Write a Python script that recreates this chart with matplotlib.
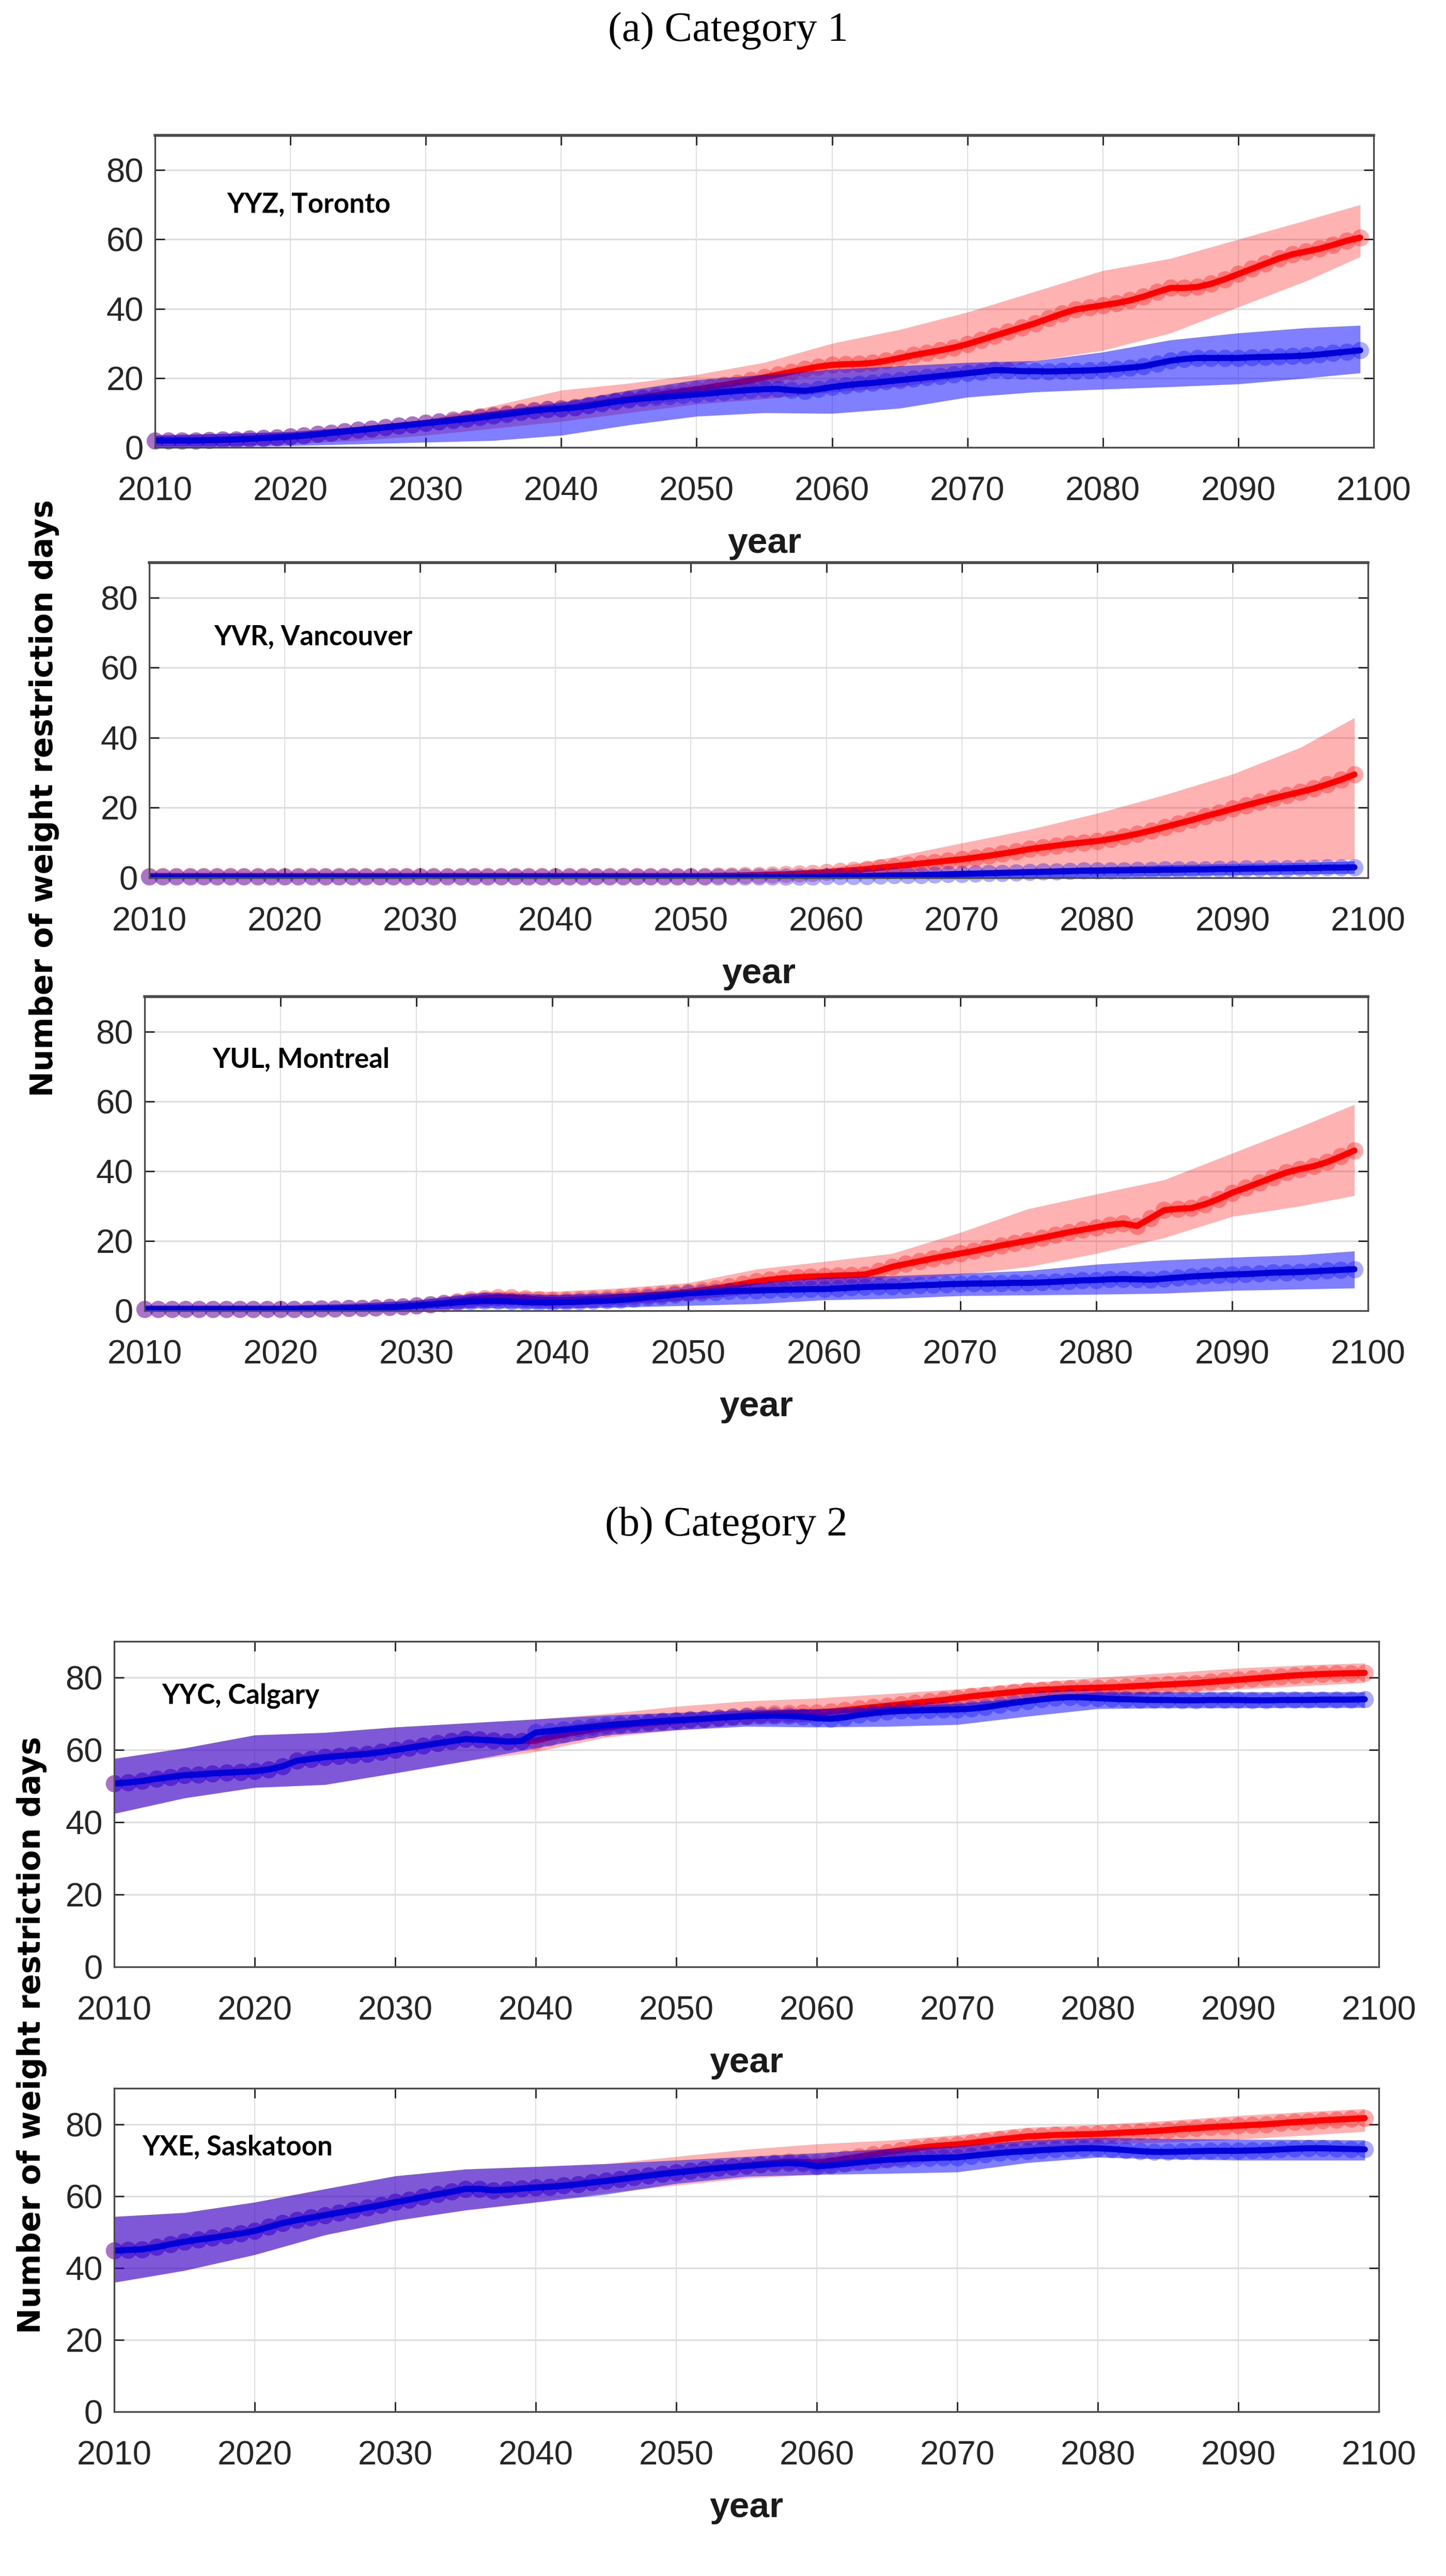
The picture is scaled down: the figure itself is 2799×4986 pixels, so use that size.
import numpy as np
import matplotlib
matplotlib.use("Agg")
import matplotlib.pyplot as plt

# ---------------- data ----------------
years = np.arange(2010, 2100)
band_years = [2010, 2015, 2020, 2025, 2030, 2035, 2040, 2045, 2050, 2055,
              2060, 2065, 2070, 2075, 2080, 2085, 2090, 2095, 2099]

# Toronto
yyz_red = [2.0, 2.0, 2.0, 2.0, 2.1, 2.2, 2.3, 2.5, 2.7, 2.9,
           3.1, 3.4, 3.8, 4.2, 4.6, 5.0, 5.4, 5.8, 6.2, 6.6,
           7.1, 7.5, 8.0, 8.4, 8.9, 9.4, 9.9, 10.3, 10.7, 11.0,
           11.2, 11.6, 12.2, 12.8, 13.4, 14.0, 14.5, 15.0, 15.6, 16.2,
           16.8, 17.4, 18.0, 18.7, 19.4, 20.2, 21.0, 21.8, 22.6, 23.3,
           23.8, 24.0, 24.1, 24.4, 25.0, 25.8, 26.6, 27.3, 28.0, 28.8,
           29.8, 31.0, 32.2, 33.4, 34.6, 35.8, 37.2, 38.6, 39.8, 40.4,
           41.0, 41.6, 42.4, 43.5, 44.8, 46.0, 46.0, 46.3, 47.2, 48.5,
           50.0, 51.5, 53.0, 54.5, 55.7, 56.5, 57.3, 58.4, 59.6, 60.5]
yyz_blue = [2.0, 2.0, 2.0, 2.0, 2.1, 2.2, 2.3, 2.5, 2.7, 2.9,
            3.1, 3.4, 3.8, 4.2, 4.6, 5.0, 5.4, 5.8, 6.2, 6.6,
            7.0, 7.4, 7.8, 8.2, 8.6, 9.1, 9.6, 10.1, 10.6, 11.0,
            11.2, 11.5, 12.0, 12.6, 13.2, 13.7, 14.1, 14.4, 14.7, 15.0,
            15.3, 15.6, 16.0, 16.3, 16.6, 16.8, 16.9, 16.5, 16.3, 16.8,
            17.4, 17.9, 18.3, 18.6, 19.0, 19.4, 19.8, 20.2, 20.6, 21.0,
            21.4, 21.8, 22.3, 22.2, 22.0, 22.0, 21.9, 22.0, 22.1, 22.2,
            22.4, 22.7, 23.0, 23.4, 24.2, 25.0, 25.5, 25.8, 25.8, 25.8,
            25.8, 26.0, 26.1, 26.2, 26.3, 26.5, 26.8, 27.2, 27.6, 28.0]
yyz_red_lo = [0.5, 0.5, 1.0, 2.0, 3.5, 5.5, 7.5, 10.0, 12.5, 14.0,
              16.0, 17.5, 20.5, 25.0, 28.0, 33.0, 40.5, 48.0, 55.0]
yyz_red_hi = [3.5, 4.0, 4.5, 6.0, 8.0, 12.0, 16.5, 18.5, 21.0, 24.5,
              30.0, 34.0, 39.0, 45.0, 51.0, 54.5, 60.0, 65.5, 70.0]
yyz_blue_lo = [0.3, 0.3, 0.5, 1.0, 1.5, 2.0, 3.5, 6.5, 9.0, 10.0,
               9.8, 11.3, 14.5, 16.0, 16.8, 17.5, 18.3, 20.0, 21.5]
yyz_blue_hi = [3.5, 4.0, 4.5, 6.0, 8.0, 10.5, 13.0, 16.5, 19.5, 21.0,
               22.5, 23.5, 24.5, 25.0, 27.5, 31.0, 33.0, 34.5, 35.2]

# Vancouver
yvr_red = [0.5, 0.5, 0.5, 0.5, 0.5, 0.5, 0.5, 0.5, 0.5, 0.5,
           0.5, 0.5, 0.5, 0.5, 0.5, 0.5, 0.5, 0.5, 0.5, 0.5,
           0.5, 0.5, 0.5, 0.5, 0.5, 0.5, 0.5, 0.5, 0.5, 0.5,
           0.5, 0.5, 0.5, 0.5, 0.5, 0.5, 0.5, 0.5, 0.5, 0.5,
           0.5, 0.5, 0.6, 0.6, 0.7, 0.8, 0.9, 1.0, 1.2, 1.4,
           1.6, 1.9, 2.2, 2.5, 2.9, 3.3, 3.7, 4.1, 4.5, 4.9,
           5.3, 5.8, 6.3, 6.9, 7.5, 8.2, 8.7, 9.2, 9.7, 10.1,
           10.5, 11.1, 11.8, 12.6, 13.5, 14.5, 15.5, 16.5, 17.6, 18.6,
           19.7, 20.7, 21.7, 22.7, 23.6, 24.5, 25.5, 26.7, 28.0, 29.5]
yvr_blue = [0.3, 0.3, 0.3, 0.3, 0.3, 0.3, 0.3, 0.3, 0.3, 0.3,
            0.3, 0.3, 0.3, 0.3, 0.3, 0.3, 0.3, 0.3, 0.3, 0.3,
            0.3, 0.3, 0.3, 0.3, 0.3, 0.3, 0.3, 0.3, 0.3, 0.3,
            0.3, 0.3, 0.3, 0.3, 0.3, 0.3, 0.3, 0.3, 0.3, 0.3,
            0.3, 0.3, 0.3, 0.3, 0.3, 0.3, 0.3, 0.3, 0.3, 0.3,
            0.4, 0.4, 0.5, 0.5, 0.6, 0.7, 0.7, 0.8, 0.9, 1.0,
            1.1, 1.2, 1.3, 1.4, 1.5, 1.6, 1.7, 1.8, 1.9, 2.0,
            2.0, 2.1, 2.1, 2.2, 2.2, 2.3, 2.3, 2.4, 2.4, 2.5,
            2.5, 2.6, 2.6, 2.7, 2.7, 2.8, 2.8, 2.9, 2.9, 3.0]
yvr_red_lo = [0.0, 0.0, 0.0, 0.0, 0.0, 0.0, 0.0, 0.0, 0.0, 0.0,
              0.2, 0.8, 1.5, 2.2, 2.8, 3.3, 3.9, 4.5, 5.2]
yvr_red_hi = [0.8, 0.8, 0.8, 0.8, 0.8, 0.8, 0.8, 0.8, 1.0, 1.5,
              2.5, 6.0, 9.9, 13.8, 18.4, 23.7, 29.6, 37.2, 45.7]
yvr_blue_lo = [0.0, 0.0, 0.0, 0.0, 0.0, 0.0, 0.0, 0.0, 0.0, 0.0,
               0.0, 0.0, 0.0, 0.0, 0.3, 0.5, 0.8, 1.0, 1.2]
yvr_blue_hi = [0.8, 0.8, 0.8, 0.8, 0.8, 0.8, 0.8, 0.8, 0.8, 0.9,
               1.0, 1.5, 2.0, 2.6, 3.1, 3.6, 4.0, 4.4, 4.8]

# Montreal
yul_red = [0.5, 0.5, 0.5, 0.5, 0.5, 0.5, 0.5, 0.5, 0.5, 0.5,
           0.5, 0.5, 0.5, 0.6, 0.6, 0.7, 0.8, 0.9, 1.0, 1.2,
           1.5, 1.8, 2.2, 2.7, 3.2, 3.6, 3.8, 3.8, 3.5, 3.2,
           3.1, 3.1, 3.2, 3.4, 3.6, 3.9, 4.1, 4.4, 4.7, 5.0,
           5.4, 5.9, 6.4, 7.0, 7.7, 8.4, 8.9, 9.3, 9.6, 9.8,
           9.9, 10.1, 10.2, 10.4, 11.4, 12.6, 13.4, 14.2, 15.0, 15.7,
           16.4, 17.1, 17.9, 18.7, 19.4, 20.1, 20.9, 21.7, 22.5, 23.2,
           23.9, 24.6, 25.0, 24.3, 26.5, 28.8, 29.2, 29.4, 30.5, 32.0,
           33.8, 35.2, 36.7, 38.2, 39.6, 40.6, 41.4, 42.6, 44.2, 45.9]
yul_blue = [0.5, 0.5, 0.5, 0.5, 0.5, 0.5, 0.5, 0.5, 0.5, 0.5,
            0.5, 0.5, 0.5, 0.6, 0.6, 0.7, 0.8, 0.9, 1.0, 1.2,
            1.5, 1.8, 2.1, 2.4, 2.7, 2.8, 2.8, 2.7, 2.5, 2.4,
            2.4, 2.5, 2.6, 2.8, 2.9, 3.1, 3.4, 3.8, 4.2, 4.6,
            5.0, 5.2, 5.4, 5.6, 5.7, 5.8, 5.9, 6.0, 6.1, 6.2,
            6.2, 6.4, 6.6, 6.8, 6.9, 7.0, 7.1, 7.3, 7.4, 7.6,
            7.7, 7.8, 7.8, 7.9, 8.0, 8.0, 8.1, 8.3, 8.5, 8.7,
            8.8, 9.0, 9.1, 9.0, 8.9, 9.2, 9.5, 9.8, 10.0, 10.2,
            10.4, 10.5, 10.7, 10.9, 11.0, 11.1, 11.3, 11.5, 11.7, 11.9]
yul_red_lo = [0.0, 0.0, 0.0, 0.0, 0.5, 1.5, 1.5, 2.0, 3.0, 5.0,
              6.0, 8.0, 10.4, 12.6, 16.4, 20.9, 27.0, 30.0, 33.0]
yul_red_hi = [1.5, 1.5, 1.5, 2.0, 3.0, 5.5, 5.5, 6.5, 8.0, 11.9,
              14.1, 16.4, 22.4, 29.2, 33.4, 37.5, 45.1, 52.7, 59.1]
yul_blue_lo = [0.0, 0.0, 0.0, 0.0, 0.3, 0.8, 0.6, 1.0, 1.5, 2.0,
               3.1, 3.5, 4.3, 4.5, 4.7, 5.0, 5.8, 6.2, 6.5]
yul_blue_hi = [1.5, 1.5, 1.5, 2.0, 3.0, 5.2, 4.6, 5.0, 5.8, 8.0,
               9.6, 10.0, 10.7, 11.5, 13.3, 14.5, 15.3, 16.0, 17.1]

# Calgary
yyc_red = [50.7, 51.0, 51.4, 52.0, 52.5, 53.0, 53.2, 53.5, 53.7, 53.9,
           54.1, 54.6, 55.5, 57.0, 57.5, 58.0, 58.3, 58.6, 58.9, 59.4,
           60.0, 60.6, 61.2, 61.8, 62.4, 63.0, 62.8, 62.6, 62.3, 62.5,
           62.5, 63.5, 64.3, 65.0, 65.6, 66.2, 66.7, 67.1, 67.4, 67.7,
           68.0, 68.3, 68.6, 68.9, 69.2, 69.5, 69.8, 70.0, 70.2, 70.3,
           70.3, 70.6, 71.0, 71.4, 71.8, 72.2, 72.6, 73.0, 73.4, 73.8,
           74.3, 74.8, 75.2, 75.6, 76.0, 76.4, 76.6, 76.8, 77.0, 77.1,
           77.2, 77.3, 77.5, 77.7, 77.9, 78.1, 78.3, 78.5, 78.8, 79.1,
           79.4, 79.7, 80.0, 80.3, 80.6, 80.8, 81.0, 81.1, 81.2, 81.3]
yyc_blue = [50.7, 51.0, 51.4, 52.0, 52.5, 53.0, 53.2, 53.5, 53.7, 53.9,
            54.1, 54.6, 55.5, 57.0, 57.5, 58.0, 58.3, 58.6, 58.9, 59.4,
            60.0, 60.6, 61.2, 61.8, 62.4, 63.0, 62.8, 62.6, 62.3, 62.5,
            64.8, 65.2, 65.6, 66.0, 66.4, 66.8, 67.1, 67.4, 67.7, 68.0,
            68.2, 68.4, 68.6, 68.9, 69.1, 69.3, 69.4, 69.5, 69.4, 69.2,
            68.8, 68.6, 69.0, 69.7, 70.2, 70.6, 70.8, 70.9, 71.0, 71.1,
            71.2, 71.4, 71.8, 72.4, 73.0, 73.5, 74.0, 74.4, 74.6, 74.5,
            74.3, 74.1, 74.0, 73.9, 73.8, 73.8, 73.7, 73.7, 73.8, 73.8,
            73.8, 73.7, 73.7, 73.8, 73.8, 73.8, 73.9, 73.9, 73.9, 74.0]
yyc_red_lo = [42.4, 46.7, 49.6, 50.4, 53.6, 56.9, 59.5, 63.5, 65.5, 67.0,
              67.8, 69.5, 71.4, 73.0, 74.3, 75.5, 76.8, 77.8, 78.6]
yyc_red_hi = [57.6, 60.5, 64.1, 64.8, 66.3, 67.4, 68.5, 70.0, 72.0, 73.5,
              74.3, 75.5, 76.8, 78.5, 80.0, 81.3, 82.6, 83.5, 84.0]
yyc_blue_lo = [42.4, 46.7, 49.6, 50.4, 53.6, 56.9, 60.5, 64.1, 65.5, 66.5,
               66.3, 66.5, 67.0, 69.3, 71.4, 71.6, 71.6, 71.7, 71.7]
yyc_blue_hi = [57.6, 60.5, 64.1, 64.8, 66.3, 67.4, 68.5, 69.6, 70.3, 71.0,
               71.4, 72.0, 72.8, 74.5, 76.0, 76.0, 76.0, 76.0, 76.0]

# Saskatoon
yxe_red = [44.8, 45.0, 45.2, 45.8, 46.6, 47.3, 47.9, 48.4, 49.0, 49.6,
           50.3, 51.4, 52.5, 53.3, 54.0, 54.7, 55.4, 56.1, 56.8, 57.5,
           58.3, 59.0, 59.8, 60.5, 61.2, 62.0, 62.0, 61.6, 61.8, 62.1,
           62.4, 62.6, 62.9, 63.3, 63.8, 64.2, 64.7, 65.2, 65.7, 66.2,
           66.6, 67.0, 67.4, 67.8, 68.1, 68.5, 68.9, 69.3, 69.6, 69.5,
           69.3, 69.8, 70.4, 71.0, 71.6, 72.2, 72.8, 73.3, 73.8, 74.1,
           74.4, 74.8, 75.3, 75.8, 76.2, 76.6, 76.8, 77.0, 77.1, 77.2,
           77.3, 77.5, 77.7, 77.9, 78.1, 78.4, 78.7, 78.9, 79.2, 79.4,
           79.6, 79.8, 80.0, 80.3, 80.6, 80.8, 81.1, 81.3, 81.5, 81.7]
yxe_blue = [44.8, 45.0, 45.2, 45.8, 46.6, 47.3, 47.9, 48.4, 49.0, 49.6,
            50.3, 51.4, 52.5, 53.3, 54.0, 54.7, 55.4, 56.1, 56.8, 57.5,
            58.3, 59.0, 59.8, 60.5, 61.2, 62.0, 62.0, 61.6, 61.8, 62.1,
            62.4, 62.6, 62.9, 63.3, 63.8, 64.2, 64.7, 65.2, 65.7, 66.2,
            66.6, 67.0, 67.4, 67.8, 68.1, 68.4, 68.7, 69.0, 69.2, 69.0,
            68.3, 68.6, 69.0, 69.4, 69.8, 70.1, 70.3, 70.5, 70.6, 70.7,
            70.8, 71.2, 71.6, 72.0, 72.3, 72.5, 72.8, 73.0, 73.2, 73.3,
            73.3, 73.1, 72.8, 72.5, 72.3, 72.3, 72.4, 72.5, 72.6, 72.6,
            72.6, 72.7, 72.8, 73.0, 73.2, 73.3, 73.3, 73.2, 73.1, 73.0]
yxe_red_lo = [36.0, 39.3, 43.7, 49.2, 53.2, 56.1, 58.3, 60.9, 63.0, 65.0,
              66.0, 68.0, 70.8, 72.8, 74.4, 75.0, 75.8, 77.0, 78.0]
yxe_red_hi = [54.3, 55.4, 58.3, 62.0, 65.6, 67.5, 68.2, 69.0, 71.0, 73.0,
              74.5, 75.5, 77.0, 79.1, 79.9, 81.0, 82.4, 83.5, 84.3]
yxe_blue_lo = [36.0, 39.3, 43.7, 49.2, 53.2, 56.1, 58.3, 60.5, 63.5, 65.5,
               66.0, 66.3, 66.7, 69.3, 70.8, 70.3, 70.0, 70.0, 70.0]
yxe_blue_hi = [54.3, 55.4, 58.3, 62.0, 65.6, 67.5, 68.2, 69.0, 70.0, 71.0,
               72.0, 73.2, 74.0, 75.5, 76.3, 76.0, 75.8, 75.7, 75.6]

station_labels = ["YYZ, Toronto", "YVR, Vancouver", "YUL, Montreal",
                  "YYC, Calgary", "YXE, Saskatoon"]
titles = ["(a) Category 1", "(b) Category 2"]
ylabel_text = "Number of weight restriction days"
xlabel_text = "year"
xticks = [2010, 2020, 2030, 2040, 2050, 2060, 2070, 2080, 2090, 2100]
yticks = [0, 20, 40, 60, 80]

panels = [
    (yyz_red, yyz_blue, yyz_red_lo, yyz_red_hi, yyz_blue_lo, yyz_blue_hi),
    (yvr_red, yvr_blue, yvr_red_lo, yvr_red_hi, yvr_blue_lo, yvr_blue_hi),
    (yul_red, yul_blue, yul_red_lo, yul_red_hi, yul_blue_lo, yul_blue_hi),
    (yyc_red, yyc_blue, yyc_red_lo, yyc_red_hi, yyc_blue_lo, yyc_blue_hi),
    (yxe_red, yxe_blue, yxe_red_lo, yxe_red_hi, yxe_blue_lo, yxe_blue_hi),
]

# ---------------- layout (pixels) ----------------
W, H = 2799, 4986
DPI = 100
boxes = [  # left, top, right, bottom
    (300, 262, 2659, 866),
    (289, 1089, 2648, 1699),
    (280, 1929, 2648, 2537),
    (221, 3177, 2669, 3807),
    (221, 4042, 2669, 4668),
]
label_pos = [(2015.3, 70.0), (2014.8, 68.8), (2015.0, 72.0),
             (2013.4, 75.0), (2012.0, 73.7)]

fig = plt.figure(figsize=(W / DPI, H / DPI), dpi=DPI)
fig.patch.set_facecolor("white")

RED = (1.0, 0.0, 0.0)
BLUE = (0.0, 0.0, 1.0)
TICKC = "#262626"
SPINEC = "#4a4a4a"

for i, (box, data) in enumerate(zip(boxes, panels)):
    l, t, r, b = box
    ax = fig.add_axes([l / W, 1 - b / H, (r - l) / W, (b - t) / H])
    rm, bm, rlo, rhi, blo, bhi = data

    ax.fill_between(band_years, rlo, rhi, color=RED, alpha=0.3, lw=0, zorder=2)
    ax.plot(years, rm, ls="none", marker="o", ms=24, mfc=RED, mec="none",
            alpha=0.33, zorder=3, clip_on=False)
    ax.plot(years, rm, color=RED, lw=8.5, zorder=4, solid_capstyle="round")
    ax.fill_between(band_years, blo, bhi, color=BLUE, alpha=0.5, lw=0, zorder=5)
    ax.plot(years, bm, ls="none", marker="o", ms=24, mfc=BLUE, mec="none",
            alpha=0.33, zorder=6, clip_on=False)
    ax.plot(years, bm, color="#0000d8", lw=8.5, zorder=7, solid_capstyle="round")

    ax.set_xlim(2010, 2100)
    ax.set_ylim(0, 90)
    ax.set_xticks(xticks)
    ax.set_yticks(yticks)
    ax.set_xticklabels([str(v) for v in xticks])
    ax.set_yticklabels([str(v) for v in yticks])

    ax.grid(True, axis="y", color="#dedede", lw=2.4, zorder=0)
    ax.grid(True, axis="x", color="#dcdcdc", lw=1.3, zorder=0)
    ax.set_axisbelow(True)

    ax.tick_params(axis="both", which="both", direction="in", length=14,
                   width=2.0, color="#202020", top=True, right=True,
                   labelsize=47, labelcolor=TICKC)
    ax.tick_params(axis="x", pad=40)
    ax.tick_params(axis="y", pad=16)
    for lab in ax.get_xticklabels() + ax.get_yticklabels():
        lab.set_fontfamily("Liberation Sans")

    for side, sp in ax.spines.items():
        sp.set_color(SPINEC)
        sp.set_linewidth(2.4)
        sp.set_zorder(10)
    if i < 3:
        ax.spines["top"].set_linewidth(4.0)

    ax.set_xlabel(xlabel_text, fontsize=50, fontweight="bold",
                  family="Liberation Sans", color="#1a1a1a", labelpad=28)

    lx, ly = label_pos[i]
    ax.text(lx, ly, station_labels[i], fontsize=38, fontweight="bold",
            family="Lato", color="black", ha="left", va="center", zorder=12)

# titles
fig.text(1410 / W, 1 - 60 / H, titles[0], ha="center", va="center",
         fontsize=58, family="Liberation Serif", color="black")
fig.text(1406 / W, 1 - 2953 / H, titles[1], ha="center", va="center",
         fontsize=58, family="Liberation Serif", color="black")

# y labels
fig.text(86 / W, 1 - 1545 / H, ylabel_text, rotation=90, ha="center",
         va="center", fontsize=43, fontweight="bold", family="DejaVu Sans",
         color="black")
fig.text(62 / W, 1 - 3939 / H, ylabel_text, rotation=90, ha="center",
         va="center", fontsize=43, fontweight="bold", family="DejaVu Sans",
         color="black")

fig.savefig("out.png", dpi=DPI, facecolor="white")
